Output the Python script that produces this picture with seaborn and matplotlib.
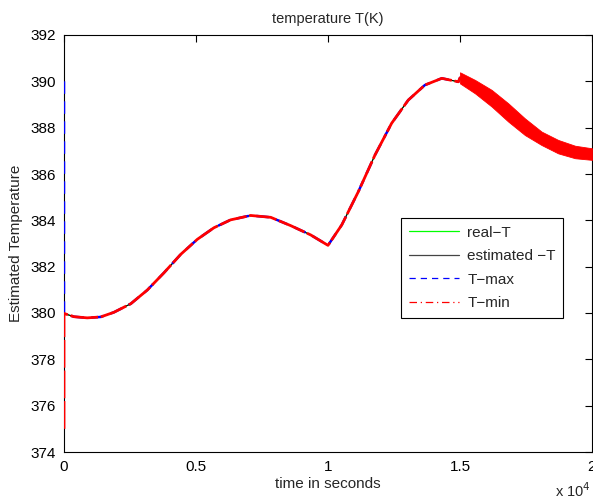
import matplotlib
matplotlib.use("Agg")
import matplotlib.pyplot as plt
from matplotlib.lines import Line2D
import seaborn as sns
import pandas as pd

# ---- data ----
time_s = [0, 380, 880, 1390, 1890, 2530, 3155, 3790, 4420, 5050, 5680, 6310,
          7070, 7830, 8590, 9345, 10000, 10520, 11150, 11780, 12410, 13040,
          13670, 14310, 14940, 15000, 15570, 16200, 16830, 17460, 18090,
          18720, 19360, 20000]
temp_est = [379.98, 379.84, 379.79, 379.83, 380.03, 380.40, 380.99, 381.74,
            382.53, 383.18, 383.68, 384.02, 384.21, 384.13, 383.77, 383.37,
            382.92, 383.80, 385.24, 386.82, 388.19, 389.19, 389.84, 390.13,
            389.98, 390.15, 389.77, 389.27, 388.66, 388.04, 387.54, 387.18,
            386.95, 386.86]
tmax_start = 390.0
tmin_start = 375.0

# oscillating band (envelope) after t = 1.5e4
band_t = [15000, 15570, 16200, 16830, 17460, 18090, 18720, 19360, 20000]
band_hi = [390.39, 390.06, 389.63, 389.05, 388.40, 387.83, 387.47, 387.22, 387.11]
band_lo = [389.91, 389.48, 388.91, 388.26, 387.68, 387.25, 386.89, 386.68, 386.61]

xticks = [0, 5000, 10000, 15000, 20000]
xtick_labels = ["0", "0.5", "1", "1.5", "2"]
yticks = [374, 376, 378, 380, 382, 384, 386, 388, 390, 392]

sns.set_style("white")
plt.rcParams["font.family"] = ["Liberation Sans", "DejaVu Sans"]
plt.rcParams["font.size"] = 11

fig = plt.figure(figsize=(5.93, 5.04), dpi=100)
ax = fig.add_axes([64 / 593, 52 / 504, 528 / 593, 417 / 504])

df = pd.DataFrame({"t": time_s, "T": temp_est})
df_max = pd.DataFrame({"t": [0] + time_s, "T": [tmax_start] + temp_est})
df_min = pd.DataFrame({"t": [0] + time_s, "T": [tmin_start] + temp_est})

sns.lineplot(data=df, x="t", y="T", ax=ax, color="#00ee00", lw=0.8,
             sort=False, estimator=None)
sns.lineplot(data=df, x="t", y="T", ax=ax, color="black", lw=0.8,
             sort=False, estimator=None)
sns.lineplot(data=df_max, x="t", y="T", ax=ax, color="blue", lw=1.8,
             sort=False, estimator=None, linestyle=(0, (5, 3)))
sns.lineplot(data=df_min, x="t", y="T", ax=ax, color="red", lw=2.0,
             sort=False, estimator=None, linestyle=(0, (10, 1.0)))
for ln in ax.get_lines():
    ln.set_solid_joinstyle("round")
    ln.set_dash_joinstyle("round")
ax.fill_between(band_t, band_lo, band_hi, color="red", lw=0.6,
                edgecolor="red", zorder=3)

ax.set_xlim(0, 20000)
ax.set_ylim(374, 392)
ax.set_xticks(xticks)
ax.set_xticklabels(xtick_labels)
ax.set_yticks(yticks)
ax.tick_params(direction="in", length=5, width=0.8, top=True, right=True,
               labelsize=11, colors="black", pad=6)
for s in ax.spines.values():
    s.set_visible(True)
    s.set_color("black")
    s.set_linewidth(0.8)
    s.set_zorder(1)

ax.set_title("temperature T(K)", fontsize=10.5, pad=9)
ax.set_xlabel("time in seconds", fontsize=11, labelpad=2)
ax.set_ylabel("Estimated Temperature", fontsize=11, labelpad=5)
fig.text(555 / 593, 1 - 491 / 504, r"x 10$^{4}$", fontsize=10.5, ha="left",
         va="center")

handles = [
    Line2D([], [], color="#00ff00", lw=0.9),
    Line2D([], [], color="#444444", lw=0.9),
    Line2D([], [], color="blue", lw=0.9, linestyle=(0, (5, 4))),
    Line2D([], [], color="red", lw=0.9, linestyle=(0, (6, 3, 1, 3))),
]
labels = ["real\u2212T", "estimated \u2212T", "T\u2212max", "T\u2212min"]
leg = ax.legend(handles, labels, loc="upper left",
                bbox_to_anchor=(0.638, 0.561), fancybox=False,
                framealpha=1, edgecolor="black", fontsize=11,
                handlelength=3.3, labelspacing=0.62, borderpad=0.5,
                handletextpad=0.55, borderaxespad=0)
leg.get_frame().set_linewidth(0.8)

fig.savefig("out.png", dpi=100)
